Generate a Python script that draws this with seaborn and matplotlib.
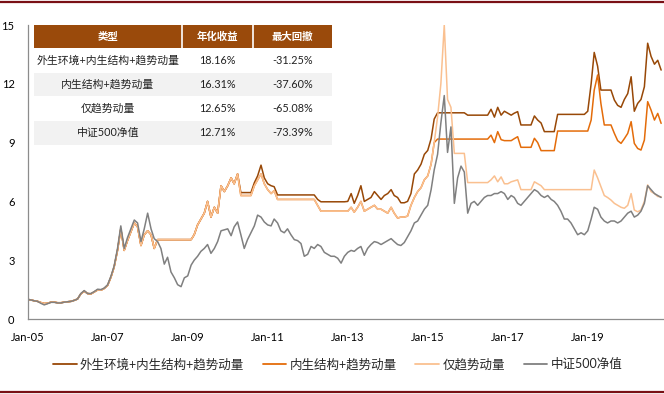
import numpy as np
import pandas as pd
import matplotlib
matplotlib.use("Agg")
import matplotlib.pyplot as plt
import matplotlib.dates as mdates
from matplotlib.patches import Rectangle
from matplotlib.lines import Line2D
import seaborn as sns

# ---------------- data (monthly, Jan-2005 .. Nov-2020) ----------------
series_names = ["外生环境+内生结构+趋势动量", "内生结构+趋势动量", "仅趋势动量", "中证500净值"]

full_model = [
    1.00, 0.97, 0.93, 0.90, 0.84, 0.79, 0.80, 0.86, 0.86, 0.83, 0.83, 0.86,
    0.88, 0.90, 0.95, 1.02, 1.28, 1.42, 1.30, 1.28, 1.38, 1.48, 1.47, 1.56,
    1.72, 2.15, 2.65, 3.50, 4.60, 3.50, 4.00, 4.45, 4.90, 4.70, 3.75, 4.30,
    4.50, 4.30, 3.60, 4.05, 4.05, 4.05, 4.05, 4.05, 4.05, 4.05, 4.05, 4.05,
    4.05, 4.05, 4.30, 4.80, 5.10, 5.40, 6.00, 5.20, 5.70, 5.40, 6.80, 6.50,
    6.80, 7.20, 6.90, 7.40, 6.45, 6.45, 6.45, 6.45, 6.95, 7.30, 7.85, 7.20,
    6.90, 6.80, 6.75, 6.33, 6.33, 6.33, 6.33, 6.33, 6.33, 6.33, 6.33, 6.33,
    6.33, 6.33, 6.33, 6.10, 5.98, 5.98, 5.98, 5.98, 5.98, 5.98, 5.98, 5.98,
    6.00, 6.40, 5.90, 6.30, 6.80, 6.00, 6.10, 6.20, 6.50, 6.30, 6.10, 6.30,
    6.40, 6.60, 6.30, 6.20, 5.93, 5.93, 6.00, 6.40, 7.40, 7.60, 7.90, 8.40,
    8.60, 9.20, 10.20, 10.52, 10.52, 10.52, 10.52, 10.52, 10.52, 10.52, 10.52, 10.52,
    10.40, 10.40, 10.40, 10.40, 10.40, 10.40, 10.40, 10.70, 10.30, 10.80, 10.40, 10.60,
    10.50, 10.40, 10.50, 10.58, 9.90, 9.90, 9.90, 9.90, 10.36, 10.15, 10.00, 9.56,
    9.56, 9.56, 9.56, 10.44, 10.44, 10.44, 10.44, 10.44, 10.44, 10.44, 10.44, 10.44,
    10.60, 12.00, 13.60, 12.90, 11.68, 11.68, 11.68, 11.68, 11.17, 10.90, 10.80, 11.20,
    11.50, 12.36, 10.60, 11.00, 11.20, 11.85, 14.07, 13.40, 13.00, 13.20, 12.70,
]

structure_trend = [
    1.00, 0.97, 0.93, 0.90, 0.84, 0.79, 0.80, 0.86, 0.86, 0.83, 0.83, 0.86,
    0.88, 0.90, 0.95, 1.02, 1.28, 1.42, 1.30, 1.28, 1.38, 1.48, 1.47, 1.56,
    1.72, 2.15, 2.65, 3.50, 4.60, 3.50, 4.00, 4.45, 4.90, 4.70, 3.75, 4.30,
    4.50, 4.30, 3.60, 4.05, 4.05, 4.05, 4.05, 4.05, 4.05, 4.05, 4.05, 4.05,
    4.05, 4.05, 4.30, 4.80, 5.10, 5.40, 6.00, 5.20, 5.70, 5.40, 6.80, 6.50,
    6.80, 7.20, 6.90, 7.40, 6.30, 6.30, 6.30, 6.30, 6.80, 7.10, 7.40, 6.90,
    6.60, 6.40, 6.55, 6.10, 6.10, 6.10, 6.10, 6.10, 6.10, 6.10, 6.10, 6.10,
    6.10, 6.10, 6.10, 5.80, 5.50, 5.50, 5.50, 5.50, 5.50, 5.50, 5.50, 5.50,
    5.50, 5.70, 5.45, 5.70, 6.00, 5.50, 5.60, 5.70, 5.80, 5.60, 5.60, 5.50,
    5.40, 5.70, 5.40, 5.15, 5.20, 5.20, 5.25, 5.80, 6.20, 6.50, 6.70, 7.10,
    7.30, 7.90, 9.00, 9.18, 9.18, 9.18, 9.18, 9.18, 9.18, 9.18, 9.18, 9.18,
    9.18, 9.18, 9.18, 9.18, 9.18, 9.18, 9.18, 9.38, 9.00, 9.56, 9.15, 9.10,
    9.10, 9.10, 9.20, 9.30, 8.76, 8.76, 8.76, 8.76, 9.22, 9.00, 8.59, 8.59,
    8.59, 8.59, 8.59, 9.59, 9.59, 9.59, 9.59, 9.59, 9.59, 9.59, 9.59, 9.59,
    9.59, 10.15, 11.68, 12.45, 11.00, 9.90, 9.90, 9.90, 9.47, 9.10, 8.96, 9.20,
    9.47, 10.07, 8.96, 8.70, 8.62, 9.13, 11.09, 10.66, 10.15, 10.49, 9.98,
]

trend_only = [
    1.00, 0.97, 0.93, 0.90, 0.84, 0.79, 0.80, 0.86, 0.86, 0.83, 0.83, 0.86,
    0.88, 0.90, 0.95, 1.02, 1.28, 1.42, 1.30, 1.28, 1.38, 1.48, 1.47, 1.56,
    1.72, 2.15, 2.65, 3.50, 4.60, 3.50, 4.00, 4.45, 4.90, 4.70, 3.75, 4.30,
    4.50, 4.30, 3.60, 4.05, 4.05, 4.05, 4.05, 4.05, 4.05, 4.05, 4.05, 4.05,
    4.05, 4.05, 4.30, 4.80, 5.10, 5.40, 6.00, 5.20, 5.70, 5.40, 6.80, 6.50,
    6.80, 7.20, 6.90, 7.40, 6.30, 6.30, 6.30, 6.30, 6.80, 7.10, 7.40, 6.90,
    6.60, 6.40, 6.55, 6.10, 6.10, 6.10, 6.10, 6.10, 6.10, 6.10, 6.10, 6.10,
    6.10, 6.10, 6.10, 5.80, 5.50, 5.50, 5.50, 5.50, 5.50, 5.50, 5.50, 5.50,
    5.50, 5.70, 5.45, 5.70, 6.00, 5.50, 5.60, 5.70, 5.80, 5.60, 5.60, 5.50,
    5.40, 5.70, 5.40, 5.15, 5.20, 5.20, 5.25, 5.80, 6.20, 6.50, 6.70, 7.10,
    7.30, 7.90, 9.00, 10.30, 12.00, 15.00, 11.20, 10.80, 8.45, 8.45, 8.45, 8.45,
    6.96, 6.96, 6.96, 6.96, 6.96, 6.96, 6.96, 7.10, 7.30, 7.00, 7.25, 6.90,
    6.90, 7.00, 7.05, 7.10, 6.60, 6.60, 6.60, 6.60, 7.00, 6.90, 6.80, 6.60,
    6.60, 6.60, 6.60, 6.60, 6.60, 6.60, 6.60, 6.60, 6.60, 6.60, 6.60, 6.60,
    6.60, 6.60, 7.60, 7.20, 6.75, 6.30, 6.20, 6.07, 5.90, 5.80, 5.70, 5.65,
    5.80, 6.40, 5.56, 5.47, 5.56, 6.00, 6.84, 6.50, 6.40, 6.25, 6.24,
]

csi500 = [
    1.00, 0.97, 0.93, 0.90, 0.80, 0.72, 0.78, 0.85, 0.85, 0.82, 0.82, 0.86,
    0.88, 0.90, 0.95, 1.02, 1.30, 1.45, 1.30, 1.30, 1.40, 1.52, 1.50, 1.58,
    1.75, 2.20, 2.70, 3.60, 4.75, 3.60, 4.15, 4.60, 5.05, 4.90, 3.95, 4.60,
    5.40, 4.60, 4.10, 3.95, 3.60, 2.80, 3.15, 2.40, 2.10, 1.75, 1.65, 2.10,
    2.20, 2.75, 3.00, 3.20, 3.45, 3.60, 3.80, 3.35, 3.60, 3.95, 4.50, 4.55,
    4.60, 4.25, 4.70, 4.95, 4.30, 3.60, 4.05, 4.40, 4.75, 5.30, 5.20, 4.95,
    4.80, 4.75, 5.10, 4.90, 4.50, 4.40, 4.60, 4.30, 4.05, 4.00, 3.85, 3.20,
    3.30, 3.70, 3.60, 3.80, 3.70, 3.40, 3.30, 3.20, 3.20, 3.10, 2.85, 3.20,
    3.40, 3.50, 3.45, 3.60, 3.70, 3.25, 3.60, 3.80, 3.95, 3.90, 3.80, 3.90,
    4.00, 4.10, 3.95, 3.80, 3.75, 3.90, 4.20, 4.50, 4.90, 5.00, 5.30, 5.60,
    5.80, 6.60, 7.60, 8.40, 10.00, 11.40, 8.50, 9.80, 5.90, 7.20, 7.80, 7.50,
    5.40, 5.90, 6.00, 5.80, 6.00, 6.20, 6.30, 6.30, 6.40, 6.40, 6.50, 6.40,
    6.10, 6.30, 6.20, 5.90, 5.80, 6.00, 6.20, 6.40, 6.60, 6.50, 6.30, 6.20,
    6.30, 6.10, 6.00, 5.80, 5.50, 5.10, 5.10, 4.90, 4.60, 4.30, 4.40, 4.30,
    4.50, 5.10, 5.70, 5.60, 5.20, 5.00, 4.90, 5.00, 5.00, 4.90, 5.00, 5.20,
    5.40, 5.50, 5.20, 5.30, 5.50, 5.90, 6.80, 6.60, 6.40, 6.30, 6.20,
]

dates = pd.date_range("2005-01-01", periods=len(csi500), freq="MS")

y_ticks = [0, 3, 6, 9, 12, 15]
x_tick_years = [2005, 2007, 2009, 2011, 2013, 2015, 2017, 2019]

table_header = ["类型", "年化收益", "最大回撤"]
table_types = series_names
table_ann_ret = ["18.16%", "16.31%", "12.65%", "12.71%"]
table_max_dd = ["-31.25%", "-37.60%", "-65.08%", "-73.39%"]

colors = ["#984807", "#E46C0A", "#FAC090", "#808080"]

# ---------------- build frame ----------------
frames = []
for name, vals in zip(series_names, [full_model, structure_trend, trend_only, csi500]):
    frames.append(pd.DataFrame({"date": dates, "value": vals, "series": name}))
df = pd.concat(frames, ignore_index=True)

# ---------------- figure ----------------
sns.set_theme(style="white")
plt.rcParams["font.family"] = ["Lato", "Noto Sans CJK SC", "DejaVu Sans"]
plt.rcParams["axes.unicode_minus"] = False

W, H = 664, 394
fig = plt.figure(figsize=(W / 100, H / 100), dpi=100)
fig.patch.set_facecolor("white")

ax_l, ax_r, ax_t, ax_b = 27.7, 663.0, 25.0, 319.0
ax = fig.add_axes([ax_l / W, 1 - ax_b / H, (ax_r - ax_l) / W, (ax_b - ax_t) / H])

sns.lineplot(data=df, x="date", y="value", hue="series", hue_order=series_names,
             palette=colors, linewidth=1.1, ax=ax, legend=True)

ax.set_ylim(0, 15)
ax.set_xlim(pd.Timestamp("2005-01-01"), pd.Timestamp("2020-11-18"))
ax.set_yticks(y_ticks)
ax.set_yticklabels([str(v) for v in y_ticks])
ax.set_xticks([pd.Timestamp(f"{y}-01-01") for y in x_tick_years])
ax.xaxis.set_major_formatter(mdates.DateFormatter("%b-%y"))
ax.set_xlabel("")
ax.set_ylabel("")

for s in ["top", "right"]:
    ax.spines[s].set_visible(False)
for s in ["left", "bottom"]:
    ax.spines[s].set_color("#8C8C8C")
    ax.spines[s].set_linewidth(0.9)
ax.tick_params(axis="both", which="major", direction="out", length=3.5, width=0.8,
               color="#8C8C8C", labelsize=8, labelcolor="#000000", pad=5)
ax.tick_params(axis="y", pad=6)
ax.tick_params(axis="x", pad=6)

# legend
handles, labels = ax.get_legend_handles_labels()
ax.legend_.remove()
leg = fig.legend(handles, labels, loc="center", bbox_to_anchor=(337.5 / W, 1 - 364 / H),
                 ncol=4, frameon=False, fontsize=9, handlelength=1.9, handletextpad=0.25,
                 columnspacing=1.5, prop={"family": ["Lato", "Noto Sans CJK SC"], "size": 9})
for lh in leg.get_lines():
    lh.set_linewidth(1.3)

# ---------------- table overlay ----------------
tab = fig.add_axes([0, 0, 1, 1], zorder=5)
tab.set_xlim(0, W)
tab.set_ylim(H, 0)
tab.axis("off")
tab.patch.set_alpha(0)

col_x = [34, 181.5, 252.5, 332]
row_top = 25
hdr_h = 23
row_h = 24.25
header_color = "#9A4A0B"

tab.add_patch(Rectangle((col_x[0], row_top), col_x[-1] - col_x[0], hdr_h,
                        facecolor=header_color, edgecolor="none"))
for cx in col_x[1:-1]:
    tab.plot([cx, cx], [row_top, row_top + hdr_h], color="white", lw=1.2)
for j, txt in enumerate(table_header):
    tab.text((col_x[j] + col_x[j + 1]) / 2, row_top + hdr_h / 2 + 0.5, txt, ha="center",
             va="center", color="white", fontsize=7.5, fontweight="bold",
             family=["Noto Sans CJK SC"])

for i in range(len(table_types)):
    y0 = row_top + hdr_h + i * row_h
    fc = "#F2F2F2" if i % 2 == 1 else "white"
    for j in range(3):
        tab.add_patch(Rectangle((col_x[j] + (0.6 if j > 0 else 0), y0 + 0.5),
                                col_x[j + 1] - col_x[j] - (0.6 if j > 0 else 0), row_h - 1,
                                facecolor=fc, edgecolor="none"))
    cy = y0 + row_h / 2
    tab.text((col_x[0] + col_x[1]) / 2, cy, table_types[i], ha="center", va="center",
             fontsize=7.8, color="#222222", family=["Lato", "Noto Sans CJK SC"])
    tab.text((col_x[1] + col_x[2]) / 2, cy, table_ann_ret[i], ha="center", va="center",
             fontsize=7.8, color="#222222", family=["Lato"])
    tab.text((col_x[2] + col_x[3]) / 2, cy, table_max_dd[i], ha="center", va="center",
             fontsize=7.8, color="#222222", family=["Lato"])

# frame rules at top and bottom of the page
fig.add_artist(Line2D([0, 1], [1 - 1.5 / H, 1 - 1.5 / H], color="#7A1015", lw=1.6,
                      transform=fig.transFigure))
fig.add_artist(Line2D([0, 1], [1 - 391.5 / H, 1 - 391.5 / H], color="#7A1015", lw=1.6,
                      transform=fig.transFigure))

fig.savefig("out.png", dpi=100, facecolor="white")
